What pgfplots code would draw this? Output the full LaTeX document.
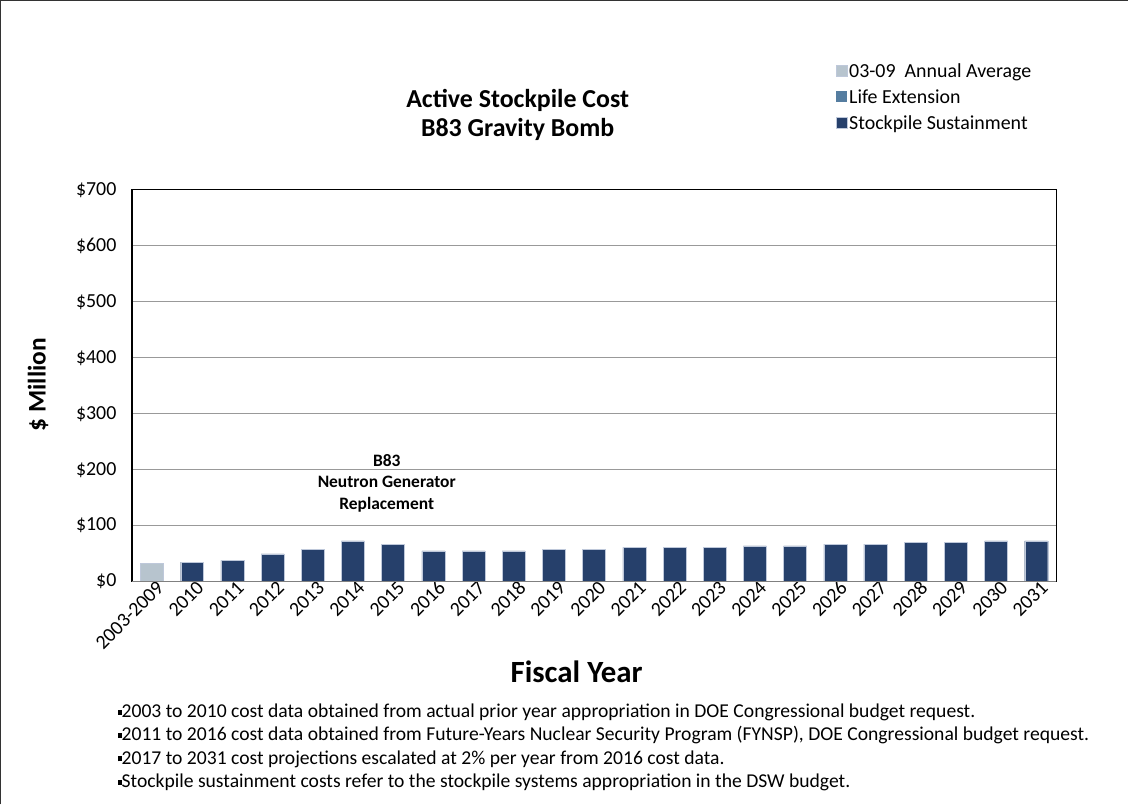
\documentclass[border=0pt]{standalone}
\usepackage{fontspec}
\setmainfont{Carlito}
\usepackage{pgfplots}
\pgfplotsset{compat=1.18}

\definecolor{sustain}{RGB}{38,64,107}
\definecolor{avg}{RGB}{183,196,206}
\definecolor{lifeext}{RGB}{85,125,160}
\definecolor{baredge}{RGB}{190,200,218}

\begin{document}
\begin{tikzpicture}[x=1bp,y=1bp]
% outer frame (left and top edges only)
\draw[line width=1.5bp, black!80] (0.75,0)--(0.75,804.25)--(1129,804.25);
\path (0,0) rectangle (1129,805);

\begin{axis}[
    at={(132bp,223bp)}, anchor=south west,
    width=925bp, height=392bp, scale only axis,
    ymin=0, ymax=700,
    ytick={0,100,...,700},
    yticklabel={\$\pgfmathprintnumber{\tick}},
    xmin=-0.5, xmax=22.5,
    xtick={0,...,22},
    xticklabels={2003-2009,2010,2011,2012,2013,2014,2015,2016,2017,2018,2019,2020,2021,2022,2023,2024,2025,2026,2027,2028,2029,2030,2031},
    x tick label style={rotate=45, anchor=north east, font=\fontsize{20}{22}\selectfont, inner sep=1bp, xshift=5bp},
    y tick label style={font=\fontsize{20}{22}\selectfont, xshift=-12bp},
    /pgf/number format/assume math mode=true,
    major tick length=0pt,
    ymajorgrids,
    grid style={gray!80, line width=1bp},
    axis line style={black, line width=1.2bp},
    ybar, bar shift=0pt, bar width=23bp,
    legend style={at={(axis description cs:0.758,1.334)}, anchor=north west, draw=none, fill=none,
        font=\fontsize{20}{22}\selectfont, row sep=7bp,
        legend cell align=left},
    legend image code/.code={\fill[#1] (0bp,-5bp) rectangle (11bp,6bp);},
]
\addplot[fill=avg, draw=baredge, line width=0.4bp] coordinates {(0,32)};
\addlegendentry{03-09\ \ Annual Average}
\addlegendimage{fill=lifeext, draw=none}
\addlegendentry{Life Extension}
\addplot[fill=sustain, draw=baredge, line width=0.4bp] coordinates {
(1,35) (2,38) (3,49.5) (4,58) (5,72.6) (6,67) (7,55) (8,55) (9,55) (10,58) (11,58)
(12,61) (13,61) (14,61) (15,64) (16,64) (17,67) (18,67) (19,69.6) (20,69.6) (21,72.6) (22,72.6)};
\addlegendentry{Stockpile Sustainment}
\draw[gray, line width=1.5bp] (axis cs:-0.5,0) -- (axis cs:22.5,0);
\node[align=center, font=\bfseries\fontsize{17.5}{21.5}\selectfont] at (axis cs:5.84,176) {B83\\Neutron Generator\\Replacement};
\end{axis}

\node[align=center, font=\bfseries\fontsize{26}{30}\selectfont] at (518,690) {Active Stockpile Cost\\B83 Gravity Bomb};
\node[font=\bfseries\fontsize{31}{33}\selectfont] at (577,133) {Fiscal Year};
\node[rotate=90, font=\bfseries\fontsize{25.5}{27}\selectfont] at (38,420) {\$ Million};

\node[anchor=north west, align=left, font=\fontsize{19.7}{23.5}\selectfont, inner sep=0pt] at (118,101) {%
\rule[0.3ex]{3.5bp}{5bp}2003 to 2010 cost data obtained from actual prior year appropriation in DOE Congressional budget request.\\
\rule[0.3ex]{3.5bp}{5bp}2011 to 2016 cost data obtained from Future-Years Nuclear Security Program (FYNSP), DOE Congressional budget request.\\
\rule[0.3ex]{3.5bp}{5bp}2017 to 2031 cost projections escalated at 2\% per year from 2016 cost data.\\
\rule[0.3ex]{3.5bp}{5bp}Stockpile sustainment costs refer to the stockpile systems appropriation in the DSW budget.};
\end{tikzpicture}
\end{document}
